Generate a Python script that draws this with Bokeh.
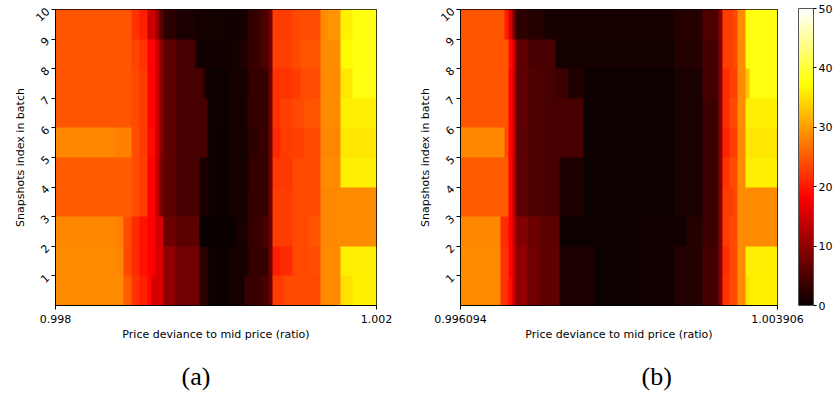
import math
import numpy as np
from bokeh.plotting import figure
from bokeh.layouts import row
from bokeh.models import LinearColorMapper, ColorBar, FixedTicker, Title, Range1d
from bokeh.embed import file_html
from bokeh.resources import INLINE

# ---------------- data ----------------
PRICE_A = (0.998, 1.002)
PRICE_B = (0.996094, 1.003906)
XTICK_LABELS_A = ["0.998", "1.002"]
XTICK_LABELS_B = ["0.996094", "1.003906"]
N_SNAP = 10
Y_TICKS = [1, 2, 3, 4, 5, 6, 7, 8, 9, 10]
CBAR_TICKS = [0, 10, 20, 30, 40, 50]
VMIN, VMAX = 0, 50
X_LABEL = "Price deviance to mid price (ratio)"
Y_LABEL = "Snapshots index in batch"
TAGS = ["(a)", "(b)"]

# each snapshot row (bottom row first): runs of (number of price levels, value), 80 levels per row
RUNS_A = [
    [(17, 28.7), (2, 25), (2, 22), (2, 20.7), (1, 18.9), (3, 15.3), (3, 10), (6, 7.8), (2, 2.6), (2, 0.3),
     (3, 0.1), (4, 0.9), (4, 3.5), (2, 4.5), (1, 7.3), (3, 22.8), (9, 23.8), (5, 28.7), (3, 35), (6, 36.2)],
    [(15, 28.7), (2, 28.2), (2, 23.8), (2, 21.4), (2, 19.4), (2, 18.3), (2, 15.3), (3, 10), (6, 7.8), (2, 2.6),
     (2, 0.2), (3, 0.1), (5, 0.9), (5, 3.5), (1, 7.3), (2, 20.6), (3, 21.4), (4, 23.8), (3, 24), (5, 28.7), (9, 36)],
    [(15, 28.5), (2, 27.8), (2, 24), (2, 21.4), (2, 19.4), (2, 18.3), (2, 15), (3, 7.3), (6, 6.2), (4, 0.1),
     (5, 0.1), (3, 1.2), (3, 3.5), (2, 4.5), (1, 7.3), (5, 22.8), (4, 23.8), (3, 24.5), (4, 28.3), (10, 28.7)],
    [(19, 25), (2, 24), (2, 22.8), (2, 18.5), (1, 13.5), (1, 8.5), (3, 6.2), (6, 4.5), (2, 1.2), (2, 0.2),
     (3, 0.1), (5, 1.0), (5, 3.5), (1, 7.3), (5, 22.8), (7, 23.8), (4, 28.2), (10, 28.7)],
    [(19, 25), (2, 24), (2, 22.8), (2, 18.5), (1, 13.5), (1, 8.5), (3, 6.2), (6, 4.5), (2, 1.2), (2, 0.2),
     (3, 0.1), (5, 0.9), (5, 3.5), (1, 7.3), (5, 22.3), (7, 23.8), (5, 28.7), (9, 36)],
    [(15, 28.5), (4, 27.8), (2, 24), (2, 22.5), (2, 18.8), (1, 14.5), (1, 9.5), (3, 6.2), (8, 4.5), (2, 0.2),
     (3, 0.1), (5, 0.8), (3, 2.9), (2, 3.5), (1, 7.3), (2, 21.3), (3, 22.8), (3, 23), (4, 23.8), (5, 28.2), (9, 35.4)],
    [(19, 24.5), (2, 23.8), (2, 22.5), (2, 18.5), (1, 14.5), (1, 9.5), (3, 6.2), (8, 4.5), (2, 0.2),
     (3, 0.2), (4, 0.8), (1, 1.5), (5, 3.5), (1, 7.3), (2, 22), (3, 23), (3, 23.8), (4, 24.5), (5, 28.7), (9, 36)],
    [(19, 24.5), (2, 23.8), (2, 22.5), (2, 18.5), (1, 14.5), (1, 9.5), (3, 6.2), (7, 4.5), (1, 1.5), (2, 0.2),
     (3, 0.2), (5, 0.9), (5, 3.5), (1, 7.3), (5, 22), (2, 22.8), (5, 24), (5, 28.7), (3, 35.5), (6, 38)],
    [(19, 24.5), (2, 23.3), (2, 22), (2, 18.5), (1, 14.5), (1, 9.5), (3, 6.2), (5, 4.5), (5, 0.6),
     (3, 0.6), (3, 0.9), (2, 1.6), (3, 3.5), (2, 4.7), (1, 7.8), (5, 23), (2, 23.8), (5, 24.5), (5, 28.7), (3, 37), (6, 38)],
    [(19, 24.5), (2, 22), (2, 20.7), (2, 14.5), (1, 10.5), (1, 6), (3, 2.6), (5, 1.2), (8, 0.8),
     (3, 0.5), (2, 1.1), (3, 3.5), (2, 4.7), (1, 7.8), (5, 22.8), (2, 23.8), (5, 24), (2, 28.7), (3, 29.4), (3, 36.2), (6, 38)],
]

RUNS_B = [
    [(10, 28.7), (2, 22), (1, 19), (1, 14), (3, 10), (3, 7.8), (5, 6.5), (9, 1.2), (12, 0.2), (8, 0.7), (7, 2.0),
     (4, 4.3), (1, 9.5), (2, 22), (2, 23.8), (2, 28.7), (1, 35), (7, 36.2)],
    [(10, 28.7), (2, 22), (1, 18.5), (1, 14), (3, 10), (3, 7.8), (5, 6.5), (9, 1.2), (12, 0.2), (8, 0.7), (7, 2.0),
     (4, 4.3), (1, 9.5), (2, 21.5), (2, 23.8), (2, 28.7), (8, 36)],
    [(10, 28.5), (2, 21.4), (1, 18.5), (1, 14), (3, 9), (3, 7.3), (5, 6.2), (21, 0.2), (11, 0.7), (4, 2.0),
     (4, 3.8), (1, 9.5), (2, 22.8), (2, 23.8), (10, 28.7)],
    [(12, 25), (1, 18.5), (1, 13.5), (3, 6.2), (4, 5.2), (4, 4.5), (6, 1.5), (23, 0.2), (7, 1.3), (4, 3.8),
     (1, 9.5), (3, 22.8), (1, 23.8), (10, 28.7)],
    [(12, 25), (1, 18.5), (1, 13.5), (3, 6.2), (4, 5.2), (4, 4.5), (6, 1.5), (23, 0.2), (7, 1.3), (4, 3.8),
     (1, 9.5), (2, 22), (2, 23.8), (2, 28.7), (8, 36)],
    [(11, 28.5), (1, 24), (1, 18.5), (1, 14.5), (3, 6.2), (4, 5.2), (10, 4.5), (23, 0.2), (7, 1.3), (4, 3.8),
     (1, 9.5), (2, 20.8), (2, 23), (2, 28.7), (8, 35.5)],
    [(12, 24.5), (1, 18.5), (1, 14.5), (3, 6.5), (4, 5.2), (10, 4.5), (23, 0.2), (7, 1.3), (4, 3.8),
     (1, 9.5), (2, 21.5), (2, 23.8), (2, 28.7), (8, 36)],
    [(12, 24.5), (1, 18.5), (1, 14.5), (3, 6.5), (4, 5.2), (3, 4.5), (3, 3.8), (4, 1.6), (23, 0.2), (7, 1.3),
     (4, 4.3), (1, 9.5), (2, 21.5), (2, 23), (2, 28.7), (1, 33), (7, 38)],
    [(12, 24.5), (1, 19), (1, 15.5), (3, 6.5), (7, 4.7), (30, 0.8), (7, 2.0), (4, 4.3), (1, 9.5), (3, 23),
     (1, 24), (2, 28.7), (8, 38)],
    [(11, 24.5), (1, 20.5), (1, 15.7), (1, 7.8), (3, 2.9), (4, 2.0), (33, 1.0), (6, 2.0), (1, 2.6), (4, 5),
     (1, 9.5), (3, 22.8), (1, 23.8), (2, 28.7), (8, 38)],
]


def expand(rows):
    return np.array([[v for n, v in r for _ in range(n)] for r in rows], dtype=float)


def hot_hex(t):
    r = min(1.0, max(0.0, 0.0416 + t * (1 - 0.0416) / 0.365079))
    g = min(1.0, max(0.0, (t - 0.365079) / (0.746032 - 0.365079)))
    b = min(1.0, max(0.0, (t - 0.746032) / (1 - 0.746032)))
    return "#%02x%02x%02x" % (round(r * 255), round(g * 255), round(b * 255))


HOT = [hot_hex(i / 255) for i in range(256)]
mapper = LinearColorMapper(palette=HOT, low=VMIN, high=VMAX)

FONT = "DejaVu Sans"
FS = "11px"
H = 394


def panel(runs, rng, tick_labels, tag, width, bl, br, bt, fh, tag_offset):
    lo, hi = rng
    p = figure(width=width, height=H, output_backend="svg", toolbar_location=None,
               x_range=Range1d(lo, hi), y_range=Range1d(0, N_SNAP),
               min_border_left=bl, min_border_right=br, min_border_top=bt,
               min_border_bottom=H - bt - fh)
    img = expand(runs)
    p.image(image=[img], x=lo, y=0, dw=hi - lo, dh=N_SNAP, color_mapper=mapper)
    p.grid.visible = False
    p.outline_line_color = "black"
    p.outline_line_width = 1
    p.background_fill_color = "white"

    p.xaxis.ticker = FixedTicker(ticks=[lo, hi])
    p.xaxis.major_label_overrides = {lo: tick_labels[0], hi: tick_labels[1]}
    p.yaxis.ticker = FixedTicker(ticks=Y_TICKS)
    for ax in (p.xaxis[0], p.yaxis[0]):
        ax.axis_line_color = "black"
        ax.major_tick_line_color = "black"
        ax.major_tick_out = 4
        ax.major_tick_in = 0
        ax.minor_tick_line_color = None
        ax.major_label_text_font = FONT
        ax.major_label_text_font_size = FS
        ax.major_label_text_color = "black"
        ax.axis_label_text_font = FONT
        ax.axis_label_text_font_size = FS
        ax.axis_label_text_font_style = "normal"
        ax.axis_label_text_color = "black"
    p.xaxis.axis_label = X_LABEL
    p.yaxis.axis_label = Y_LABEL
    p.xaxis.major_label_standoff = 5
    p.xaxis.axis_label_standoff = 2
    p.yaxis.major_label_orientation = math.pi / 4
    p.yaxis.major_label_standoff = 4
    p.yaxis.axis_label_standoff = 2

    # spacer + sub-figure tag below the x axis
    p.add_layout(Title(text=" ", text_font_size="14px", standoff=0), "below")
    p.add_layout(Title(text=tag, align="left", offset=tag_offset, standoff=0, vertical_align="top",
                       text_font="Liberation Serif", text_font_size="26px",
                       text_font_style="normal", text_color="black"), "below")
    return p


pa = panel(RUNS_A, PRICE_A, XTICK_LABELS_A, TAGS[0], width=408, bl=55, br=32, bt=8, fh=299,
           tag_offset=126)
pb = panel(RUNS_B, PRICE_B, XTICK_LABELS_B, TAGS[1], width=425, bl=52, br=56, bt=9, fh=296,
           tag_offset=181)

cb = ColorBar(color_mapper=mapper, ticker=FixedTicker(ticks=CBAR_TICKS), width=15, height=297,
              padding=0, margin=0, location=(338, 0), major_tick_in=0, major_tick_out=3,
              major_tick_line_color="black", label_standoff=2, bar_line_color="#555555",
              major_label_text_font=FONT, major_label_text_font_size=FS,
              major_label_text_color="black",
              background_fill_alpha=0, border_line_color=None)
pb.add_layout(cb)

layout = row(pa, pb)
open("out.html", "w").write(file_html(layout, INLINE))
